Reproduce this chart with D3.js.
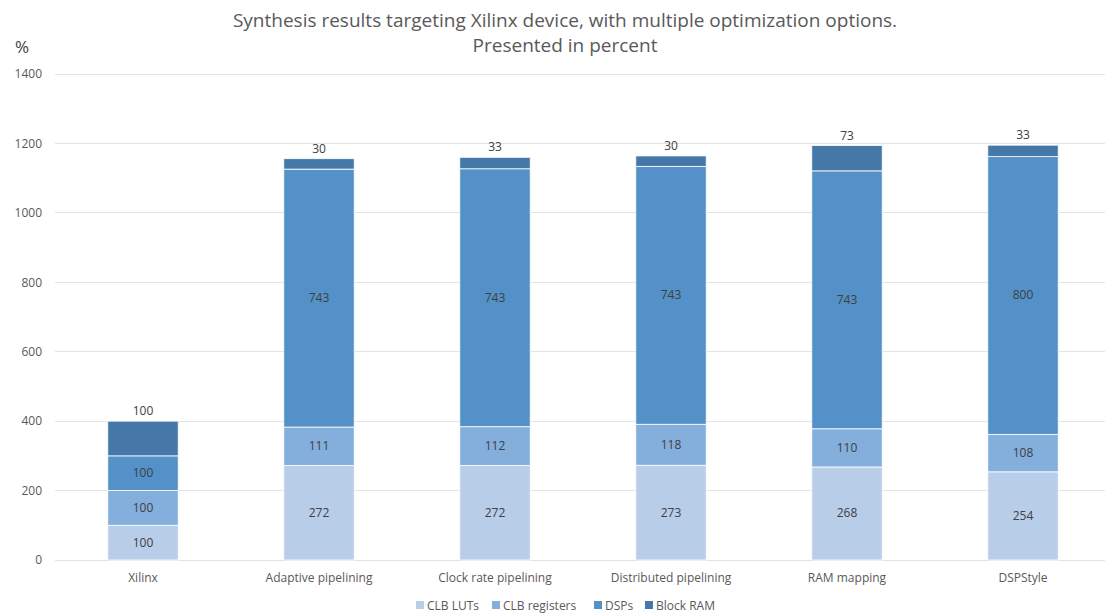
<!DOCTYPE html>
<html><head><meta charset="utf-8">
<script src="https://cdn.jsdelivr.net/npm/d3@7"></script>
<style>
body{margin:0;background:#fff;}
svg{display:block;font-family:"Open Sans",sans-serif;}
</style></head>
<body><svg id="c" width="1105" height="616"></svg>
<script>
const categories = ["Xilinx","Adaptive pipelining","Clock rate pipelining","Distributed pipelining","RAM mapping","DSPStyle"];
const seriesNames = ["CLB LUTs","CLB registers","DSPs","Block RAM"];
const clbLuts = [100,272,272,273,268,254];
const clbRegs = [100,111,112,118,110,108];
const dsps = [100,743,743,743,743,800];
const blockRam = [100,30,33,30,73,33];
const yTicks = [0,200,400,600,800,1000,1200,1400];
const colors = ["#b8cde8","#84aedc","#5391c8","#4578a8"];

const seriesVals = [clbLuts, clbRegs, dsps, blockRam];
const rows = categories.map((c,i)=>{const r={cat:c}; seriesNames.forEach((s,j)=>r[s]=seriesVals[j][i]); return r;});
const stack = d3.stack().keys(seriesNames)(rows);

const svg = d3.select("#c");
const x = d3.scaleBand().domain(categories).range([55,1111]).paddingInner(0.6).paddingOuter(0.3);
const y = d3.scaleLinear().domain([0,1400]).range([560,74]);

// gridlines
svg.append("g").selectAll("line").data(yTicks).join("line")
  .attr("x1",55).attr("x2",1105).attr("y1",d=>y(d)).attr("y2",d=>y(d))
  .attr("stroke","#e3e3e3").attr("stroke-width",1).attr("shape-rendering","crispEdges");

// y axis labels
const ya = svg.append("g").attr("transform","translate(42,0)")
  .call(d3.axisLeft(y).tickValues(yTicks).tickFormat(d3.format("d")).tickSize(0).tickPadding(0));
ya.select(".domain").remove();
ya.selectAll("text").attr("font-size",12).attr("fill","#595959").attr("font-family","'Open Sans',sans-serif");

// x axis labels
const xa = svg.append("g").attr("transform","translate(0,560)")
  .call(d3.axisBottom(x).tickSize(0).tickPadding(13));
xa.select(".domain").remove();
xa.selectAll("text").attr("font-size",12).attr("fill","#595959").attr("font-family","'Open Sans',sans-serif");

// bars
const g = svg.append("g");
stack.forEach((layer,j)=>{
  g.append("g").selectAll("rect").data(layer).join("rect")
    .attr("x",d=>x(d.data.cat)).attr("width",x.bandwidth())
    .attr("y",d=>y(d[1])).attr("height",d=>y(d[0])-y(d[1]))
    .attr("fill",colors[j]).attr("stroke","#fff").attr("stroke-width",0.8);
});
// labels
stack.forEach((layer,j)=>{
  g.append("g").selectAll("text").data(layer).join("text")
    .attr("x",d=>x(d.data.cat)+x.bandwidth()/2)
    .attr("y",d=> j===3 ? y(d[1])-6 : (y(d[0])+y(d[1]))/2+4)
    .attr("text-anchor","middle").attr("font-size",12).attr("fill","#404040")
    .text(d=>d[1]-d[0]);
});

// title
svg.append("text").attr("x",565).attr("y",27).attr("text-anchor","middle")
  .attr("font-size",19).attr("fill","#595959").text("Synthesis results targeting Xilinx device, with multiple optimization options.");
svg.append("text").attr("x",565).attr("y",52).attr("text-anchor","middle")
  .attr("font-size",19).attr("fill","#595959").text("Presented in percent");
svg.append("text").attr("x",15).attr("y",53).attr("font-size",17).attr("fill","#404040").text("%");

// legend
const legX = [416,492,594,645];
const leg = svg.append("g");
seriesNames.forEach((s,j)=>{
  leg.append("rect").attr("x",legX[j]).attr("y",601).attr("width",8).attr("height",8).attr("fill",colors[j]);
  leg.append("text").attr("x",legX[j]+11).attr("y",609.5).attr("font-size",12).attr("fill","#595959").text(s);
});
</script></body></html>
